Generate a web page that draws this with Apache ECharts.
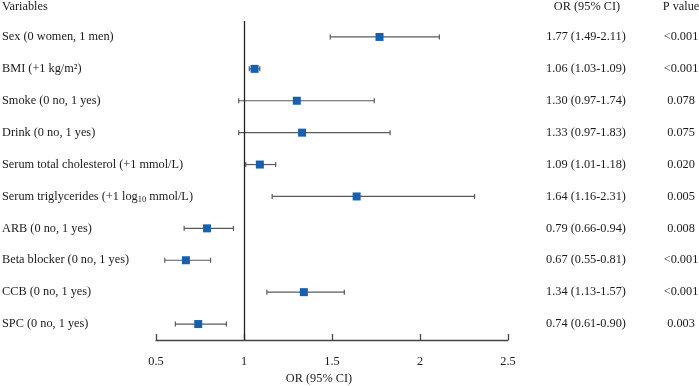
<!DOCTYPE html>
<html>
<head>
<meta charset="utf-8">
<script src="https://cdn.jsdelivr.net/npm/echarts@6/dist/echarts.min.js"></script>
<style>
  html, body { margin: 0; padding: 0; background: #fff; }
  #chart { width: 699px; height: 386px; }
</style>
</head>
<body>
<div id="chart"></div>
<script>
const variables = [
  "Sex (0 women, 1 men)",
  "BMI (+1 kg/m²)",
  "Smoke (0 no, 1 yes)",
  "Drink (0 no, 1 yes)",
  "Serum total cholesterol (+1 mmol/L)",
  "{a|Serum triglycerides (+1 log}{s|10}{a| mmol/L)}",
  "ARB (0 no, 1 yes)",
  "Beta blocker (0 no, 1 yes)",
  "CCB (0 no, 1 yes)",
  "SPC (0 no, 1 yes)",
];
const orEst = [1.77, 1.06, 1.30, 1.33, 1.09, 1.64, 0.79, 0.67, 1.34, 0.74];
const ciLow = [1.49, 1.03, 0.97, 0.97, 1.01, 1.16, 0.66, 0.55, 1.13, 0.61];
const ciHigh = [2.11, 1.09, 1.74, 1.83, 1.18, 2.31, 0.94, 0.81, 1.57, 0.90];
const pValues = ["<0.001", "<0.001", "0.078", "0.075", "0.020", "0.005", "0.008", "<0.001", "<0.001", "0.003"];

const font = "Liberation Serif";
const fs = 12.3;
const textColor = "#1a1a1a";
const orText = orEst.map(
  (v, i) => `${v.toFixed(2)} (${ciLow[i].toFixed(2)}-${ciHigh[i].toFixed(2)})`
);
const idx = variables.map((_, i) => i);

const chart = echarts.init(document.getElementById("chart"));

const catAxisBase = {
  type: "category",
  data: idx,
  inverse: true,
  axisLine: { show: false },
  axisTick: { show: false },
  splitLine: { show: false },
};

const option = {
  animation: false,
  grid: { left: 156, right: 191, top: 21, bottom: 46, outerBoundsMode: "none", containLabel: false },
  graphic: [
    { type: "text", left: 2, top: 1, style: { text: "Variables", font: `${fs}px "${font}"`, fill: textColor } },
    { type: "text", x: 587, y: 7, style: { text: "OR (95% CI)", font: `${fs}px "${font}"`, fill: textColor, align: "center", verticalAlign: "middle" } },
    { type: "text", x: 681, y: 7, style: { text: "P value", font: `${fs}px "${font}"`, fill: textColor, align: "center", verticalAlign: "middle" } },
  ],
  xAxis: {
    type: "value",
    min: 0.5,
    max: 2.5,
    interval: 0.5,
    name: "OR (95% CI)",
    nameLocation: "middle",
    nameGap: 33,
    nameTextStyle: { fontFamily: font, fontSize: fs, color: textColor, padding: [0, 26, 0, 0] },
    axisLine: { show: true, lineStyle: { color: "#444", width: 1.3 } },
    axisTick: { show: true, inside: true, length: 6, lineStyle: { color: "#444", width: 1.3 } },
    axisLabel: { fontFamily: font, fontSize: fs, color: textColor, margin: 16 },
    splitLine: { show: false },
  },
  yAxis: [
    {
      ...catAxisBase,
      position: "left",
      axisLabel: {
        fontFamily: font,
        fontSize: fs,
        color: textColor,
        align: "left",
        margin: 154,
        formatter: (v) => {
          const s = variables[v];
          return s.startsWith("{") ? s : `{a|${s}}`;
        },
        rich: {
          a: { fontFamily: font, fontSize: fs, color: textColor },
          s: { fontFamily: font, fontSize: 8.5, color: textColor, padding: [6, 0, 0, 0] },
        },
      },
    },
    {
      ...catAxisBase,
      position: "right",
      axisLabel: {
        fontFamily: font, fontSize: fs, color: textColor, align: "center", margin: 78,
        formatter: (v) => orText[v],
      },
    },
    {
      ...catAxisBase,
      position: "right",
      axisLabel: {
        fontFamily: font, fontSize: fs, color: textColor, align: "center", margin: 173,
        formatter: (v) => pValues[v],
      },
    },
  ],
  series: [
    {
      type: "custom",
      yAxisIndex: 0,
      data: idx.map((i) => [ciLow[i], ciHigh[i], i]),
      renderItem: (params, api) => {
        const lo = api.coord([api.value(0), api.value(2)]);
        const hi = api.coord([api.value(1), api.value(2)]);
        const cap = 2.5;
        const style = { stroke: "#5a5a5a", lineWidth: 1.2 };
        return {
          type: "group",
          children: [
            { type: "line", shape: { x1: lo[0], y1: lo[1], x2: hi[0], y2: hi[1] }, style },
            { type: "line", shape: { x1: lo[0], y1: lo[1] - cap, x2: lo[0], y2: lo[1] + cap }, style },
            { type: "line", shape: { x1: hi[0], y1: hi[1] - cap, x2: hi[0], y2: hi[1] + cap }, style },
          ],
        };
      },
      z: 2,
    },
    {
      type: "scatter",
      yAxisIndex: 0,
      symbol: "rect",
      symbolSize: 8,
      data: idx.map((i) => [orEst[i], i]),
      itemStyle: { color: "#1660ae", opacity: 1 },
      z: 3,
      markLine: {
        silent: true,
        symbol: "none",
        label: { show: false },
        lineStyle: { color: "#222", type: "solid", width: 1.3 },
        data: [{ xAxis: 1 }],
      },
    },
  ],
};

chart.setOption(option);
</script>
</body>
</html>
